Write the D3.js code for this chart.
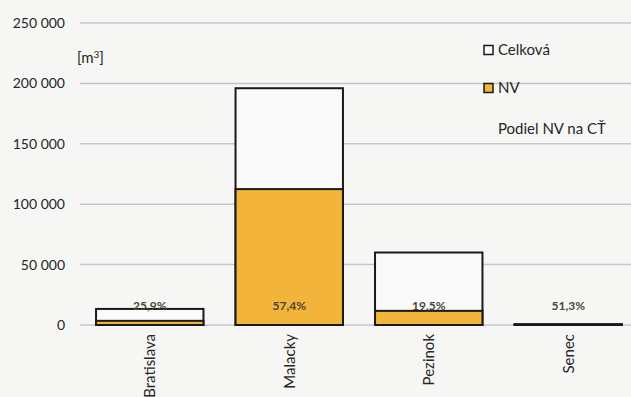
<!DOCTYPE html>
<html>
<head>
<meta charset="utf-8">
<script src="https://cdn.jsdelivr.net/npm/d3@7"></script>
<style>
  html, body { margin: 0; padding: 0; background: #f6f6f4; }
  svg { display: block; font-family: Lato, "Open Sans", sans-serif; }
</style>
</head>
<body>
<svg id="chart" width="631" height="397"></svg>
<script>
const districts = ["Bratislava", "Malacky", "Pezinok", "Senec"];
const totalVolume = [13300, 196000, 60000, 700];
const nvVolume = [3450, 112500, 11700, 360];
const nvShare = ["25,9%", "57,4%", "19,5%", "51,3%"];
const yTicks = [0, 50000, 100000, 150000, 200000, 250000];

const svg = d3.select("#chart");
const fmt = v => d3.format(",")(v).replace(/,/g, " ");

const x = d3.scaleBand().domain(districts).range([80, 638]).paddingInner(0.23).paddingOuter(0.115);
const y = d3.scaleLinear().domain([0, 250000]).range([325, 23]);

// gridlines
svg.append("g").selectAll("line").data(yTicks).join("line")
  .attr("x1", 80).attr("x2", 631)
  .attr("y1", d => y(d)).attr("y2", d => y(d))
  .attr("stroke", "#c4c6c6").attr("stroke-width", 1.5);

// tick labels
svg.append("g").selectAll("text").data(yTicks).join("text")
  .attr("x", 65).attr("y", d => y(d)).attr("dy", "0.35em")
  .attr("text-anchor", "end").style("font-size", "14px").style("fill", "#262626")
  .text(d => fmt(d));

// unit
const unit = svg.append("text").attr("x", 77).attr("y", 63).style("font-size", "15px").style("fill", "#262626");
unit.append("tspan").text("[m");
unit.append("tspan").attr("dy", -5).style("font-size", "10px").text("3");
unit.append("tspan").attr("dy", 5).text("]");

// total bars
svg.append("g").selectAll("rect").data(districts).join("rect")
  .attr("x", d => x(d)).attr("width", x.bandwidth())
  .attr("y", (d, i) => y(totalVolume[i]))
  .attr("height", (d, i) => y(0) - y(totalVolume[i]))
  .attr("fill", "#fafafa").attr("stroke", "#1a1a1a").attr("stroke-width", 2);

// NV bars
svg.append("g").selectAll("rect").data(districts).join("rect")
  .attr("x", d => x(d)).attr("width", x.bandwidth())
  .attr("y", (d, i) => y(nvVolume[i]))
  .attr("height", (d, i) => y(0) - y(nvVolume[i]))
  .attr("fill", "#f2b43a").attr("stroke", "#1a1a1a").attr("stroke-width", 2);

// share labels
svg.append("g").selectAll("text").data(districts).join("text")
  .attr("x", d => x(d) + x.bandwidth() / 2).attr("y", 306).attr("dy", "0.35em")
  .attr("text-anchor", "middle").style("font-size", "12px").style("font-weight", "bold")
  .style("fill", "#4a4636")
  .text((d, i) => nvShare[i]);

// category labels
svg.append("g").selectAll("text").data(districts).join("text")
  .attr("transform", d => `translate(${x(d) + x.bandwidth() / 2},334) rotate(-90)`)
  .attr("text-anchor", "end").attr("dy", "0.35em")
  .style("font-size", "15px").style("fill", "#262626")
  .text(d => d);

// legend
const legend = [
  { label: "Celková", fill: "#fafafa", y: 50 },
  { label: "NV", fill: "#f2b43a", y: 88 },
  { label: "Podiel NV na CŤ", fill: null, y: 129 }
];
const lg = svg.append("g").selectAll("g").data(legend).join("g");
lg.filter(d => d.fill).append("rect")
  .attr("x", 484).attr("y", d => d.y - 4.5).attr("width", 9).attr("height", 9)
  .attr("fill", d => d.fill).attr("stroke", "#1a1a1a").attr("stroke-width", 1.5);
lg.append("text")
  .attr("x", 498).attr("y", d => d.y).attr("dy", "0.35em")
  .style("font-size", "15px").style("fill", "#262626")
  .text(d => d.label);
</script>
</body>
</html>
